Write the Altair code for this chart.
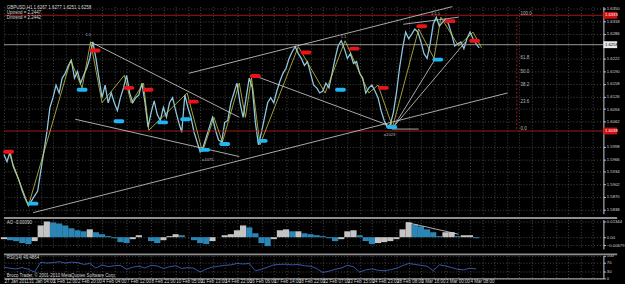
import altair as alt
import pandas as pd

FONT = "Liberation Sans"
W = 611
XMAX = 782
H_MAIN, H_AO, H_RSI = 211, 30, 23
GRID = "#5a5a5a"
TXT = "#d9d9d9"

# ---------------- data ----------------
price_bars = list(range(0, 624, 4))
close = [1.5978, 1.5960, 1.5985, 1.5948, 1.5930, 1.5910, 1.5885, 1.5865, 1.5848, 1.5860,
         1.5873, 1.5885, 1.5935, 1.5985, 1.6035, 1.6098, 1.6123, 1.6155, 1.6135, 1.6173,
         1.6185, 1.6205, 1.6218, 1.6173, 1.6190, 1.6160, 1.6180, 1.6198, 1.6223, 1.6265,
         1.6223, 1.6173, 1.6123, 1.6155, 1.6110, 1.6135, 1.6110, 1.6090, 1.6123, 1.6148,
         1.6180, 1.6135, 1.6110, 1.6123, 1.6130, 1.6160, 1.6110, 1.6048, 1.6085, 1.6115,
         1.6080, 1.6065, 1.6098, 1.6073, 1.6110, 1.6123, 1.6090, 1.6060, 1.6035, 1.6130,
         1.6098, 1.6073, 1.6035, 1.6010, 1.5985, 1.5998, 1.6023, 1.6048, 1.6073, 1.6040,
         1.6015, 1.6010, 1.6060, 1.6065, 1.6110, 1.6135, 1.6160, 1.6110, 1.6073, 1.6123,
         1.6173, 1.6148, 1.6060, 1.6003, 1.6035, 1.6073, 1.6110, 1.6123, 1.6110, 1.6140,
         1.6165, 1.6185, 1.6198, 1.6223, 1.6240, 1.6253, 1.6235, 1.6223, 1.6205, 1.6215,
         1.6185, 1.6155, 1.6148, 1.6135, 1.6140, 1.6160, 1.6148, 1.6185, 1.6223, 1.6255,
         1.6268, 1.6248, 1.6223, 1.6235, 1.6210, 1.6215, 1.6185, 1.6173, 1.6135, 1.6148,
         1.6155, 1.6140, 1.6123, 1.6090, 1.6065, 1.6048, 1.6055, 1.6085, 1.6135, 1.6198,
         1.6248, 1.6290, 1.6273, 1.6285, 1.6298, 1.6290, 1.6265, 1.6235, 1.6223, 1.6260,
         1.6310, 1.6328, 1.6305, 1.6315, 1.6323, 1.6310, 1.6285, 1.6255, 1.6260, 1.6265,
         1.6248, 1.6273, 1.6290, 1.6273, 1.6260, 1.6250]

zz_bars = [6, 32, 87, 102, 113, 128, 157, 166, 182, 189, 239, 259, 274, 285, 307, 315,
           323, 334, 384, 419, 445, 476, 488, 507, 541, 561, 570, 593, 612, 623]
zz_price = [1.5985, 1.5848, 1.6218, 1.6148, 1.6265, 1.6110, 1.6180, 1.6110, 1.6160, 1.6040,
            1.6135, 1.5985, 1.6073, 1.6010, 1.6160, 1.6073, 1.6173, 1.6003, 1.6253, 1.6135,
            1.6268, 1.6135, 1.6155, 1.6048, 1.6298, 1.6223, 1.6328, 1.6255, 1.6290, 1.6250]

red_bars = [6, 119, 163, 188, 247, 328, 394, 457, 495, 545, 582, 614]
red_price = [1.5985, 1.6243, 1.6148, 1.6143, 1.6113, 1.6178, 1.6238, 1.6248, 1.6148,
             1.6305, 1.6318, 1.6268]
cyan_bars = [38, 102, 150, 207, 237, 262, 288, 337, 439, 506, 566]
cyan_price = [1.5853, 1.6143, 1.6063, 1.6060, 1.6068, 1.5990, 1.6005, 1.6013, 1.6143,
              1.6048, 1.6220]

seg_x1 = [113, 93, 38, 241, 521, 506, 328, 508, 508]
seg_p1 = [1.6265, 1.6068, 1.5830, 1.6185, 1.6310, 1.6043, 1.6178, 1.6048, 1.6048]
seg_x2 = [307, 307, 657, 585, 593, 541, 508, 602, 563]
seg_p2 = [1.6073, 1.5973, 1.6135, 1.6355, 1.6328, 1.6043, 1.6048, 1.6265, 1.6223]

red_lines = [1.6333, 1.6038]
bid_line = [1.6258]

fib_bar = 669
fib_low, fib_high = 1.6043, 1.6335
fib_levels = [0.0, 23.6, 38.2, 50.0, 61.8, 100.0]

swing_txt = ["1.1", "1.1", "1.1.1", "a1075", "a1023"]
swing_bar = [110, 443, 563, 266, 503]
swing_price = [1.6283, 1.6278, 1.6336, 1.5965, 1.6028]

main_ticks = [1.6350, 1.6318, 1.6286, 1.6222, 1.6190, 1.6158, 1.6126, 1.6094,
              1.6062, 1.5998, 1.5966, 1.5934, 1.5902, 1.5870, 1.5838]

ao_bars = list(range(0, 624, 8))
ao = [-0.0017, -0.0026, -0.0034, -0.0051, -0.0060, -0.0034, 0.0102, 0.0136, 0.0128, 0.0119,
      0.0102, 0.0077, 0.0060, 0.0051, 0.0068, 0.0043, 0.0026, 0.0009, -0.0009, -0.0043,
      -0.0051, -0.0017, 0.0017, 0.0000, -0.0034, -0.0051, -0.0026, 0.0009, 0.0026, 0.0017,
      0.0000, -0.0026, -0.0051, -0.0060, -0.0034, 0.0000, 0.0017, 0.0026, 0.0060, 0.0102,
      0.0085, 0.0034, -0.0051, -0.0077, -0.0017, 0.0060, 0.0068, 0.0051, 0.0051, 0.0034,
      0.0026, 0.0017, 0.0009, -0.0009, -0.0034, -0.0017, 0.0051, 0.0060, 0.0017, -0.0034,
      -0.0060, -0.0051, -0.0043, -0.0034, -0.0017, 0.0068, 0.0128, 0.0111, 0.0094, 0.0068,
      0.0043, 0.0009, 0.0043, 0.0043, 0.0009, 0.0017, 0.0017, -0.0009]
ao_div_bars = [525, 593]
ao_div_vals = [0.0128, 0.0026]
ao_ticks = [-0.00679, 0.0, 0.01344]

rsi = [50, 45, 42, 48, 40, 28, 72, 68, 70, 74,
       68, 72, 70, 62, 66, 46, 60, 52, 56, 58,
       40, 50, 54, 46, 58, 55, 44, 52, 56, 44,
       48, 45, 28, 42, 50, 54, 58, 60, 66, 64,
       66, 34, 40, 50, 60, 62, 63, 60, 62, 56,
       54, 44, 26, 32, 40, 46, 58, 52, 28, 38,
       42, 36, 34, 38, 45, 56, 66, 62, 58, 54,
       34, 60, 55, 48, 40, 38, 45, 42]
rsi_ticks = [0, 30, 70, 100]

date_labels = ["27 Jan 2011", "31 Jan 04:00", "1 Feb 12:00", "2 Feb 20:00", "4 Feb 04:00",
               "7 Feb 12:00", "8 Feb 21:00", "10 Feb 05:00", "11 Feb 13:00", "14 Feb 22:00",
               "16 Feb 06:00", "17 Feb 14:00", "18 Feb 22:00", "22 Feb 07:00", "23 Feb 15:00",
               "24 Feb 23:00", "28 Feb 08:00", "1 Mar 16:00", "3 Mar 00:00", "4 Mar 08:00"]

header = ["GBPUSD,H1  1.6267 1.6277 1.6251 1.6258", "Uptrend = 2.2447", "Dntrend = 2.2442"]

# ---------------- tables ----------------
df_price = pd.DataFrame({"bar": price_bars, "p": close})
df_zz = pd.DataFrame({"bar": zz_bars, "p": zz_price})
df_red = pd.DataFrame({"bar": red_bars, "p": red_price})
df_cyan = pd.DataFrame({"bar": cyan_bars, "p": cyan_price})
df_seg = pd.DataFrame({"x1": seg_x1, "p1": seg_p1, "x2": seg_x2, "p2": seg_p2})
df_redl = pd.DataFrame({"p": red_lines})
df_bid = pd.DataFrame({"p": bid_line})
df_fibline = pd.DataFrame({"bar": [fib_bar], "p1": [fib_low], "p2": [fib_high]})
df_fib = pd.DataFrame({"bar": [fib_bar + 5] * len(fib_levels),
                       "p": [fib_low + (fib_high - fib_low) * l / 100 for l in fib_levels],
                       "t": ["%.1f" % l for l in fib_levels]})
df_swing = pd.DataFrame({"bar": swing_bar, "p": swing_price, "t": swing_txt})
df_box = pd.DataFrame({"p": red_lines + bid_line,
                       "t": ["%.4f" % v for v in red_lines + bid_line],
                       "kind": ["red", "red", "bid"]})

dirs = ["up" if i == 0 or ao[i] >= ao[i - 1] else "down" for i in range(len(ao))]
df_ao = pd.DataFrame({"bar": ao_bars, "ao": ao, "dir": dirs})
df_aodiv = pd.DataFrame({"x1": [ao_div_bars[0]], "v1": [ao_div_vals[0]],
                         "x2": [ao_div_bars[1]], "v2": [ao_div_vals[1]]})
df_rsi = pd.DataFrame({"bar": ao_bars, "rsi": rsi})

# ---------------- axes ----------------
arr = "[" + ",".join("'%s'" % s for s in date_labels) + "]"
date_expr = ("(datum.value %% 32 == 0 && datum.value / 32 < %d) ? %s[datum.value / 32] : ''"
             % (len(date_labels), arr))

xs = alt.Scale(domain=[0, XMAX], nice=False, zero=False)
vgrid = list(range(0, XMAX, 16))


def xaxis(bottom=False):
    if bottom:
        return alt.Axis(values=vgrid, grid=True, gridColor=GRID, gridDash=[1, 2], gridWidth=0.8,
                        ticks=False, domain=True, domainColor="#cfcfcf", domainWidth=1,
                        labelExpr=date_expr, labelAlign="left", labelBaseline="top",
                        labelFont=FONT, labelFontSize=4.6, labelColor=TXT, labelPadding=0,
                        labelOverlap=False, labelFlush=False, title=None)
    return alt.Axis(values=vgrid, grid=True, gridColor=GRID, gridDash=[1, 2], gridWidth=0.8,
                    ticks=False, domain=False, labels=False, title=None)


def yaxis(values, expr=None, fmt=None):
    kw = dict(orient="right", values=values, grid=True, gridColor=GRID, gridDash=[1, 2],
              gridWidth=0.8, ticks=True, tickSize=2, tickColor="#cfcfcf", domain=True,
              domainColor="#cfcfcf", labelFont=FONT, labelFontSize=4.3, labelColor=TXT,
              labelPadding=1, labelOverlap=False, labelFlush=False, title=None)
    if expr:
        kw["labelExpr"] = expr
    if fmt:
        kw["format"] = fmt
    return alt.Axis(**kw)


# ---------------- main panel ----------------
ys = alt.Scale(domain=[1.58275, 1.6355], nice=False, zero=False)
XA = xaxis()
YA = yaxis(main_ticks, fmt=".4f")


def X(f):
    return alt.X(f, type="quantitative", scale=xs, axis=XA)


def Y(f):
    return alt.Y(f, type="quantitative", scale=ys, axis=YA)


base_main = alt.Chart(df_price).mark_line(color="#8fc7de", strokeWidth=1.3).encode(
    x=X("bar"), y=Y("p"))
redl = alt.Chart(df_redl).mark_rule(color="#a31a1a", strokeWidth=1).encode(y=Y("p"))
bidl = alt.Chart(df_bid).mark_rule(color="#9a9a9a", strokeWidth=1).encode(y=Y("p"))
segs = alt.Chart(df_seg).mark_rule(color="#d6d6d6", strokeWidth=0.8).encode(
    x=X("x1"), x2="x2:Q", y=Y("p1"), y2="p2:Q")
zz = alt.Chart(df_zz).mark_line(color="#c9c94e", strokeWidth=0.8).encode(x=X("bar"), y=Y("p"))
fibl = alt.Chart(df_fibline).mark_rule(color="#a31a1a", strokeWidth=1, strokeDash=[2, 2]).encode(
    x=X("bar"), y=Y("p1"), y2="p2:Q")
fibt = alt.Chart(df_fib).mark_text(align="left", baseline="middle", fontSize=4.5,
                                   color="#bdbdbd", font=FONT).encode(
    x=X("bar"), y=Y("p"), text="t:N")
swt = alt.Chart(df_swing).mark_text(align="center", baseline="middle", fontSize=4.2,
                                    color="#bdbdbd", font=FONT).encode(
    x=X("bar"), y=Y("p"), text="t:N")
redm = alt.Chart(df_red).mark_tick(orient="horizontal", size=11, thickness=4, cornerRadius=2,
                                   color="#e8141a", opacity=1).encode(x=X("bar"), y=Y("p"))
cyanm = alt.Chart(df_cyan).mark_tick(orient="horizontal", size=11, thickness=4, cornerRadius=2,
                                     color="#1fb6f2", opacity=1).encode(x=X("bar"), y=Y("p"))
boxes_red = alt.Chart(df_box[df_box.kind == "red"]).mark_tick(
    orient="horizontal", size=14, thickness=7, color="#d01010", opacity=1).encode(
    x=alt.value(W + 7), y=Y("p"))
boxes_bid = alt.Chart(df_box[df_box.kind == "bid"]).mark_tick(
    orient="horizontal", size=14, thickness=7, color="#e8e8e8", opacity=1).encode(
    x=alt.value(W + 7), y=Y("p"))
box_txt_red = alt.Chart(df_box[df_box.kind == "red"]).mark_text(
    align="left", baseline="middle", fontSize=4.3, color="white", font=FONT).encode(
    x=alt.value(W + 1.5), y=Y("p"), text="t:N")
box_txt_bid = alt.Chart(df_box[df_box.kind == "bid"]).mark_text(
    align="left", baseline="middle", fontSize=4.3, color="black", font=FONT).encode(
    x=alt.value(W + 1.5), y=Y("p"), text="t:N")
hdr = [alt.Chart(pd.DataFrame({"t": [header[i]]})).mark_text(
    align="left", baseline="middle", fontSize=4.5, color=TXT, font=FONT).encode(
    x=alt.value(3), y=alt.value(1.5 + 5 * i), text="t:N") for i in range(3)]

main = alt.layer(base_main, redl, bidl, segs, zz, fibl, fibt, swt, redm, cyanm,
                 boxes_red, boxes_bid, box_txt_red, box_txt_bid, *hdr).properties(
    width=W, height=H_MAIN)

# ---------------- AO panel ----------------
ys_ao = alt.Scale(domain=[-0.0102, 0.0153], nice=False, zero=False)
YA_AO = yaxis(ao_ticks, expr="datum.value == 0 ? '0.00' : format(datum.value, '.5f')")
XA_AO = xaxis()
ao_up = alt.Chart(df_ao[df_ao.dir == "up"]).mark_rule(color="#c4c4c4", strokeWidth=6.3).encode(
    x=alt.X("bar:Q", scale=xs, axis=XA_AO), y=alt.Y("ao:Q", scale=ys_ao, axis=YA_AO),
    y2=alt.datum(0))
ao_dn = alt.Chart(df_ao[df_ao.dir == "down"]).mark_rule(color="#2b86b6", strokeWidth=6.3).encode(
    x=alt.X("bar:Q", scale=xs, axis=XA_AO), y=alt.Y("ao:Q", scale=ys_ao, axis=YA_AO),
    y2=alt.datum(0))
ao_div = alt.Chart(df_aodiv).mark_rule(color="#dcdcdc", strokeWidth=0.8).encode(
    x=alt.X("x1:Q", scale=xs, axis=XA_AO), x2="x2:Q",
    y=alt.Y("v1:Q", scale=ys_ao, axis=YA_AO), y2="v2:Q")
ao_lbl = alt.Chart(pd.DataFrame({"t": ["AO -0.00090"]})).mark_text(
    align="left", baseline="middle", fontSize=4.5, color=TXT, font=FONT).encode(
    x=alt.value(3), y=alt.value(4), text="t:N")
sep1 = alt.Chart(pd.DataFrame({"a": [0]})).mark_rule(color="#8e8e8e", strokeWidth=2).encode(
    x=alt.value(0), x2=alt.value(625), y=alt.value(-1.5))
ao_panel = alt.layer(ao_up, ao_dn, ao_div, ao_lbl, sep1).properties(width=W, height=H_AO)

# ---------------- RSI panel ----------------
ys_rsi = alt.Scale(domain=[0, 100], nice=False, zero=False)
YA_RSI = yaxis(rsi_ticks, fmt="d")
XA_RSI = xaxis(bottom=True)
rsi_line = alt.Chart(df_rsi).mark_line(color="#3d62b8", strokeWidth=0.9).encode(
    x=alt.X("bar:Q", scale=xs, axis=XA_RSI), y=alt.Y("rsi:Q", scale=ys_rsi, axis=YA_RSI))
rsi_lbl = alt.Chart(pd.DataFrame({"t": ["RSI(14) 49.4864"]})).mark_text(
    align="left", baseline="middle", fontSize=4.5, color=TXT, font=FONT).encode(
    x=alt.value(3), y=alt.value(2.5), text="t:N")
copy_lbl = alt.Chart(pd.DataFrame({"t": ["Broco Trader, \u00a9 2001-2010 MetaQuotes Software Corp."]})).mark_text(
    align="left", baseline="middle", fontSize=4.5, color=TXT, font=FONT).encode(
    x=alt.value(3), y=alt.value(H_RSI - 2), text="t:N")
sep2 = alt.Chart(pd.DataFrame({"a": [0]})).mark_rule(color="#8e8e8e", strokeWidth=2).encode(
    x=alt.value(0), x2=alt.value(625), y=alt.value(-1.5))
rsi_panel = alt.layer(rsi_line, rsi_lbl, copy_lbl, sep2).properties(width=W, height=H_RSI)

chart = alt.vconcat(main, ao_panel, rsi_panel, spacing=3).properties(
    background="black",
    padding={"left": 0, "right": 0, "top": 2, "bottom": 0},
).configure_view(stroke=None).configure_text(font=FONT)

chart.save("out.html", embed_options={"renderer": "svg", "actions": False})
